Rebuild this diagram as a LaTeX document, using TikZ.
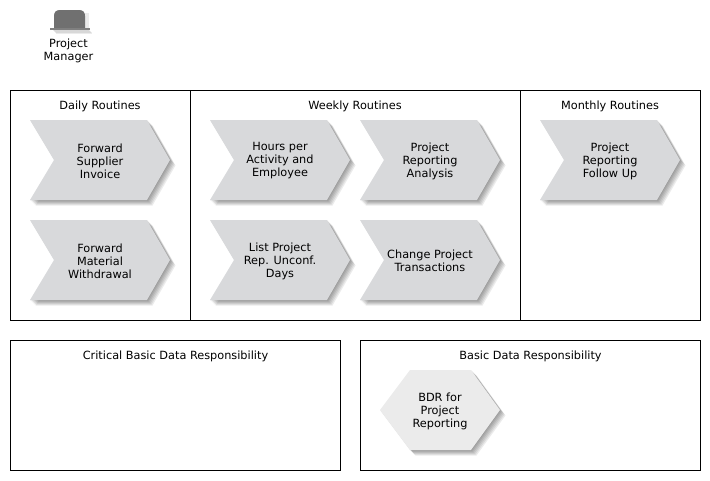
\documentclass[tikz,border=0pt]{standalone}
\usepackage{fontspec}
\setmainfont{DejaVu Sans}
\usepackage{xcolor}
\usetikzlibrary{calc}
\definecolor{chevrongray}{RGB}{216,217,219}
\definecolor{hexgray}{RGB}{235,235,235}
\definecolor{hatgray}{RGB}{112,112,112}
\definecolor{hatbrim}{RGB}{128,128,128}
\newcommand{\chevronpath}{(0,0) -- (117,0) -- (140,40) -- (117,80) -- (0,80) -- (24,40) -- cycle}
\newcommand{\hexpath}{(0,40) -- (30,0) -- (91,0) -- (120,40) -- (91,80) -- (30,80) -- cycle}
\tikzset{
    frame/.style={draw=black, line width=0.8pt},
    title/.style={anchor=center, inner sep=0pt},
    label/.style={anchor=center, align=center, inner sep=0pt},
    blurshadow/.style={fill=black, fill opacity=0.08}
}
\begin{document}
\begin{tikzpicture}[x=1pt, y=-1pt, font=\fontsize{11.3}{13}\selectfont]
    \useasboundingbox (0,0) rectangle (710,480);
    \fill[white] (0,0) rectangle (710,480);
    % role icon
    \foreach \d in {1,2,3,4} {
        \fill[blurshadow] ($(52,28)+(\d,\d)$) rectangle ($(88,30)+(\d,\d)$);
        \fill[blurshadow] ($(85,13)+(\d-1,0)$) rectangle ($(85,28)+(\d,0)$);
    }
    \fill[hatgray] (54,28) -- (54,16) .. controls (54,12) and (56,10) .. (60,10)
        -- (79,10) .. controls (83,10) and (85,12) .. (85,16) -- (85,28) -- cycle;
    \fill[hatbrim] (50,28) rectangle (90,30);
    \node[label] (manager) at (68.5,50.8) {Project\\Manager};
    % routine frames
    \draw[frame] (10,90) rectangle (190,320);
    \draw[frame] (190,90) rectangle (520,320);
    \draw[frame] (520,90) rectangle (700,320);
    \draw[frame] (10,340) rectangle (340,470);
    \draw[frame] (360,340) rectangle (700,470);
    \node[title] (daily) at (100,106.8) {Daily Routines};
    \node[title] (weekly) at (355,106.8) {Weekly Routines};
    \node[title] (monthly) at (610,106.8) {Monthly Routines};
    \node[title] (critical) at (175.5,356.8) {Critical Basic Data Responsibility};
    \node[title] (basic) at (530.5,356.8) {Basic Data Responsibility};
    % chevrons: foreach with name and text
    \foreach \xx/\yy/\name/\txt in {
        30/120/supplier/{Forward\\Supplier\\Invoice},
        30/220/material/{Forward\\Material\\Withdrawal},
        210/120/hours/{Hours per\\Activity and\\Employee},
        360/120/analysis/{Project\\Reporting\\Analysis},
        210/220/unconf/{List Project\\Rep. Unconf.\\Days},
        360/220/transactions/{Change Project\\Transactions},
        540/120/followup/{Project\\Reporting\\Follow Up}} {
        \begin{scope}[shift={(\xx,\yy)}]
            \foreach \d in {1,...,6} {
                \fill[blurshadow, shift={(\d-0.5,\d-0.5)}] \chevronpath;
            }
            \fill[chevrongray] \chevronpath;
            \node[label] (\name) at (70,41) {\txt};
        \end{scope}
    }
    % responsibility hexagon
    \begin{scope}[shift={(380,370)}]
        \foreach \d in {1,...,6} {
            \fill[blurshadow, shift={(\d-0.5,\d-0.5)}] \hexpath;
        }
        \fill[hexgray] \hexpath;
        \node[label] (bdr) at (60,41) {BDR for\\Project\\Reporting};
    \end{scope}
\end{tikzpicture}
\end{document}
